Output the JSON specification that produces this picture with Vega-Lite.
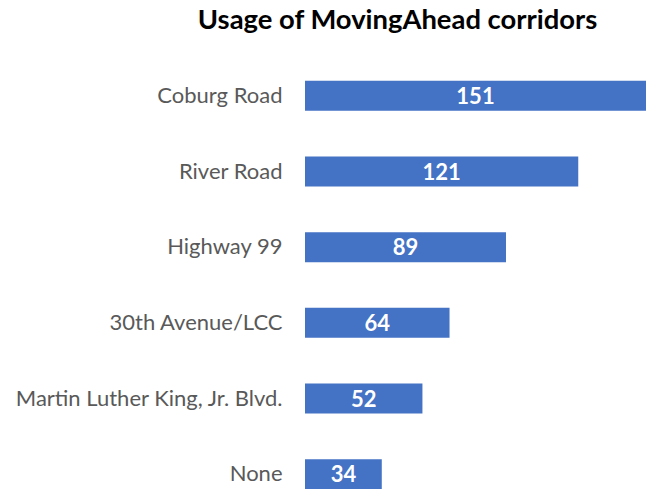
{
  "$schema": "https://vega.github.io/schema/vega-lite/v6.json",
  "autosize": {"type": "none"},
  "width": 341,
  "height": 454,
  "padding": {"left": 305, "top": 58, "right": 2, "bottom": 0},
  "background": "white",
  "title": {
    "text": "Usage of MovingAhead corridors",
    "font": "Lato",
    "fontSize": 27.4,
    "fontWeight": "bold",
    "color": "#000000",
    "anchor": "middle",
    "dx": -78,
    "offset": 23.3
  },
  "data": {
    "values": [
      {"corridor": "Coburg Road", "count": 151},
      {"corridor": "River Road", "count": 121},
      {"corridor": "Highway 99", "count": 89},
      {"corridor": "30th Avenue/LCC", "count": 64},
      {"corridor": "Martin Luther King, Jr. Blvd.", "count": 52},
      {"corridor": "None", "count": 34}
    ]
  },
  "encoding": {
    "y": {
      "field": "corridor",
      "type": "nominal",
      "sort": null,
      "scale": {"paddingInner": 0.603, "paddingOuter": 0.3015},
      "axis": {
        "title": null,
        "domain": false,
        "ticks": false,
        "labelPadding": 23,
        "labelFont": "Lato",
        "labelFontSize": 22,
        "labelColor": "#595959",
        "labelLimit": 400
      }
    }
  },
  "layer": [
    {
      "mark": {"type": "bar", "color": "#4472C4"},
      "encoding": {
        "x": {
          "field": "count",
          "type": "quantitative",
          "scale": {"domain": [0, 151], "nice": false},
          "axis": null
        }
      }
    },
    {
      "mark": {"type": "text", "color": "white", "font": "Lato", "fontSize": 22, "fontWeight": "bold", "baseline": "middle", "align": "center", "dy": 1},
      "encoding": {
        "x": {
          "field": "count",
          "type": "quantitative",
          "scale": {"domain": [0, 302], "nice": false},
          "axis": null
        },
        "text": {"field": "count", "type": "quantitative"}
      }
    }
  ],
  "resolve": {"scale": {"x": "independent"}},
  "config": {"view": {"stroke": null}}
}
